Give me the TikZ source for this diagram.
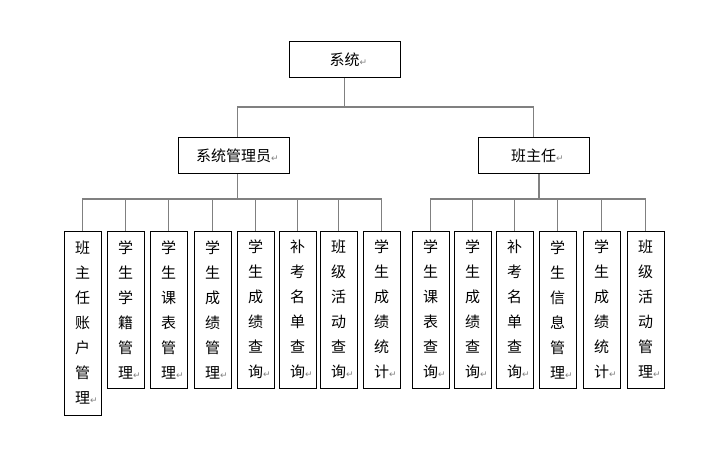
\documentclass[tikz,border=0pt]{standalone}
\usepackage{fontspec}
\setmainfont{Noto Sans CJK SC}
\newfontfamily\retfont{DejaVu Sans}
\usepackage{xcolor}
\usetikzlibrary{positioning}
\definecolor{linkgray}{HTML}{808080}
\newcommand{\ret}{\rlap{\retfont\color{linkgray}\fontsize{9}{9}\selectfont ↵}}
\tikzset{
	box/.style={draw=black,line width=1pt,inner sep=0pt,minimum width=111pt,minimum height=36pt,font=\fontsize{15}{18}\selectfont},
	leaf/.style={draw=black,line width=1pt,inner sep=0pt,minimum width=37pt,minimum height=157pt,align=center,font=\fontsize{15}{25}\selectfont},
	link/.style={draw=linkgray,line width=1.2pt}
}
\begin{document}
\begin{tikzpicture}[x=1pt,y=-1pt]
		\useasboundingbox (0,0) rectangle (713,452);
		% top levels
		\node[box] (sys) at (344.5,59.5) {系统\ret};
		\node[box] (admin) at (233.5,155.5) {系统管理员\ret};
		\node[box] (teach) at (533.5,155.5) {班主任\ret};
		%
		% leaves of the administrator
		\node[leaf,minimum height=184pt] (a1) at (82.5,323) {班\\主\\任\\账\\户\\管\\理\ret};
		\node[leaf] (a2) at (125.5,309.5) {学\\生\\学\\籍\\管\\理\ret};
		\node[leaf] (a3) at (168.5,309.5) {学\\生\\课\\表\\管\\理\ret};
		\node[leaf] (a4) at (212.5,309.5) {学\\生\\成\\绩\\管\\理\ret};
		\node[leaf] (a5) at (255.5,309.5) {学\\生\\成\\绩\\查\\询\ret};
		\node[leaf] (a6) at (297.5,309.5) {补\\考\\名\\单\\查\\询\ret};
		\node[leaf] (a7) at (338.5,309.5) {班\\级\\活\\动\\查\\询\ret};
		\node[leaf] (a8) at (381.5,309.5) {学\\生\\成\\绩\\统\\计\ret};
		%
		% leaves of the head teacher
		\node[leaf] (t1) at (430.5,309.5) {学\\生\\课\\表\\查\\询\ret};
		\node[leaf] (t2) at (472.5,309.5) {学\\生\\成\\绩\\查\\询\ret};
		\node[leaf] (t3) at (514.5,309.5) {补\\考\\名\\单\\查\\询\ret};
		\node[leaf] (t4) at (557.5,309.5) {学\\生\\信\\息\\管\\理\ret};
		\node[leaf] (t5) at (601.5,309.5) {学\\生\\成\\绩\\统\\计\ret};
		\node[leaf] (t6) at (645.5,309.5) {班\\级\\活\\动\\管\\理\ret};
		%
		% joints
		\coordinate (sJ) at (344.5,107);
		\coordinate (aJ) at (237.5,199);
		\coordinate (tJ) at (539,199);
		%
		\path[link]
		% first level
		(sys.south) edge (sJ)
		(sJ) edge[to path={-| (\tikztotarget)}] ([xshift=4pt]admin.north)
		(sJ) edge[to path={-| (\tikztotarget)}] (teach.north)
		% second level
		([xshift=4pt]admin.south) edge (aJ)
		([xshift=5.5pt]teach.south) edge (tJ);
		%
		\foreach \n in {a1,a2,a3,a4,a5,a6,a7,a8}
			\draw[link] (aJ) -| (\n.north);
		\foreach \n in {t1,t2,t3,t4,t5,t6}
			\draw[link] (tJ) -| (\n.north);
	\end{tikzpicture}
\end{document}
